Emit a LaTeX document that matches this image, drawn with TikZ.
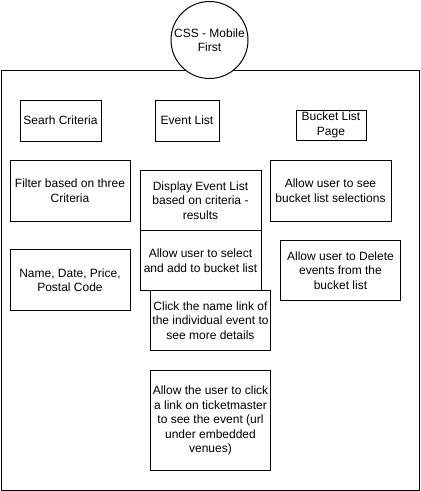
\documentclass[tikz,border=0pt]{standalone}
\usepackage{fontspec}
\setmainfont{Liberation Sans}
\begin{document}
\begin{tikzpicture}[x=1pt,y=-1pt,
  box/.style={draw=black,line width=1pt,fill=white,rectangle,inner sep=0pt,align=center,
    font=\fontsize{12}{14.5}\selectfont},
  circ/.style={draw=black,line width=1pt,fill=white,circle,inner sep=0pt,align=center,
    font=\fontsize{12}{14.5}\selectfont,minimum size=77pt}]
\useasboundingbox (0,0) rectangle (421,491);
\node[draw=black,line width=1pt,rectangle,inner sep=0pt,minimum width=418pt,minimum height=420pt] (frame) at (210,280) {};
\node[circ] (css) at (209.5,40) {CSS - Mobile\\First};
\node[box,minimum width=81pt,minimum height=41pt] (search) at (60.5,120.5) {Searh Criteria};
\node[box,minimum width=64pt,minimum height=41pt] (elist) at (187,120.5) {Event List};
\node[box,minimum width=70pt,minimum height=30pt] (bpage) at (331,125) {Bucket List\\Page};
\node[box,minimum width=120pt,minimum height=61pt] (filter) at (70,190.5) {Filter based on three\\Criteria};
\node[box,minimum width=120pt,minimum height=61pt] (names) at (70,280) {Name, Date, Price,\\Postal Code};
\node[box,minimum width=121pt,minimum height=61pt] (display) at (200.5,200.5) {Display Event List\\based on criteria -\\results};
\node[box,minimum width=121pt,minimum height=60pt] (select) at (200.5,260.5) {Allow user to select\\and add to bucket list};
\node[box,minimum width=120pt,minimum height=60pt] (click) at (210.5,320.5) {Click the name link of\\the individual event to\\see more details};
\node[box,minimum width=120pt,minimum height=100pt] (ticket) at (210.5,420.5) {Allow the user to click\\a link on ticketmaster\\to see the event (url\\under embedded\\venues)};
\node[box,minimum width=121pt,minimum height=61pt] (see) at (330.5,190.5) {Allow user to see\\bucket list selections};
\node[box,minimum width=120pt,minimum height=60pt] (delete) at (340.5,270.5) {Allow user to Delete\\events from the\\bucket list};
\end{tikzpicture}
\end{document}
